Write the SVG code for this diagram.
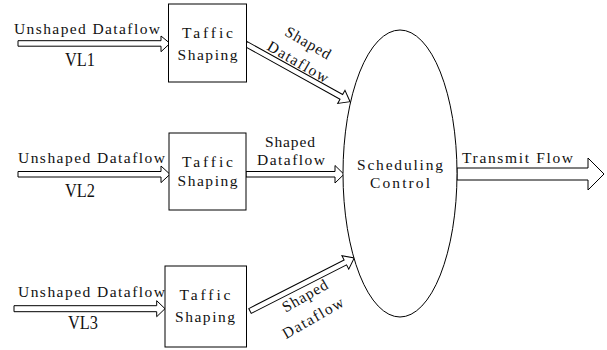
<svg xmlns="http://www.w3.org/2000/svg" width="607" height="350" viewBox="0 0 607 350">
  <style>
    .arr { fill: #fff; stroke: #000; stroke-width: 1; stroke-linejoin: miter; }
    .box { fill: #fff; stroke: #000; stroke-width: 1; }
    .t { font-family: "Liberation Serif", "DejaVu Serif", serif; font-size: 15.5px; fill: #111; }
    .c { text-anchor: middle; }
    .vl { font-family: "Liberation Serif", "DejaVu Serif", serif; font-size: 19px; fill: #111; }
  </style>
  <rect width="607" height="350" fill="#fff"/>

  <!-- connectors: hollow block arrows -->
  <g id="connectors">
    <path class="arr" d="M18,40.7 H161 V36 L170,43.4 L161,51.7 V46.2 H18 Z"/>
    <path class="arr" d="M18,171.5 H161 V166 L170,174.3 L161,182.6 V177 H18 Z"/>
    <path class="arr" d="M14,305.7 H156.7 V300.7 L165,308.7 L156.7,316.7 V311.7 H14 Z"/>
    <!-- shaped flows into the scheduler -->
    <path class="arr" transform="translate(246,44) rotate(29)" d="M0,-2.7 H109 V-7.5 L119,0 L109,7.5 V2.7 H0 Z"/>
    <path class="arr" d="M246,171.5 H335 V165.5 L344,174.3 L335,183 V177 H246 Z"/>
    <path class="arr" transform="translate(250,311) rotate(-27)" d="M0,-2.7 H107 V-7.5 L117,0 L107,7.5 V2.7 H0 Z"/>
    <!-- output -->
    <path class="arr" d="M457,168 H588 V158 L604,174 L588,190 V180 H457 Z"/>
  </g>

  <g id="labels">
    <text class="t" x="14" y="33.5" textLength="146">Unshaped Dataflow</text>
    <text class="vl" x="65" y="66" textLength="30" lengthAdjust="spacingAndGlyphs">VL1</text>
    <text class="t" x="18" y="163" textLength="147">Unshaped Dataflow</text>
    <text class="vl" x="65" y="197" textLength="30" lengthAdjust="spacingAndGlyphs">VL2</text>
    <text class="t" x="18" y="297" textLength="147">Unshaped Dataflow</text>
    <text class="vl" x="68" y="329" textLength="30" lengthAdjust="spacingAndGlyphs">VL3</text>

    <text class="t c" transform="translate(308,43) rotate(30)" x="0" y="5" textLength="50">Shaped</text>
    <text class="t c" transform="translate(298,62) rotate(30)" x="0" y="5" textLength="68">Dataflow</text>
    <text class="t c" x="290" y="147" textLength="50">Shaped</text>
    <text class="t c" x="291" y="165" textLength="68">Dataflow</text>
    <text class="t c" transform="translate(305,296) rotate(-30)" x="0" y="5" textLength="50">Shaped</text>
    <text class="t c" transform="translate(313,318) rotate(-30)" x="0" y="5" textLength="68">Dataflow</text>

    <text class="t" x="462" y="163" textLength="111">Transmit Flow</text>
  </g>

  <g id="shaper1">
    <rect class="box" x="168.5" y="4" width="78" height="78"/>
    <text class="t c" x="207.5" y="38.3" textLength="51">Taffic</text>
    <text class="t c" x="207.5" y="60" textLength="60">Shaping</text>
  </g>
  <g id="shaper2">
    <rect class="box" x="169" y="133" width="77" height="77"/>
    <text class="t c" x="207.5" y="167" textLength="51">Taffic</text>
    <text class="t c" x="207.5" y="186" textLength="60">Shaping</text>
  </g>
  <g id="shaper3">
    <rect class="box" x="165" y="266" width="81.5" height="81"/>
    <text class="t c" x="205" y="300" textLength="51">Taffic</text>
    <text class="t c" x="205" y="321.7" textLength="60">Shaping</text>
  </g>

  <g id="scheduler">
    <ellipse class="box" cx="400" cy="173.5" rx="57" ry="143.5" fill="none"/>
    <text class="t c" x="400" y="170" textLength="86">Scheduling</text>
    <text class="t c" x="400" y="188" textLength="60">Control</text>
  </g>
</svg>
